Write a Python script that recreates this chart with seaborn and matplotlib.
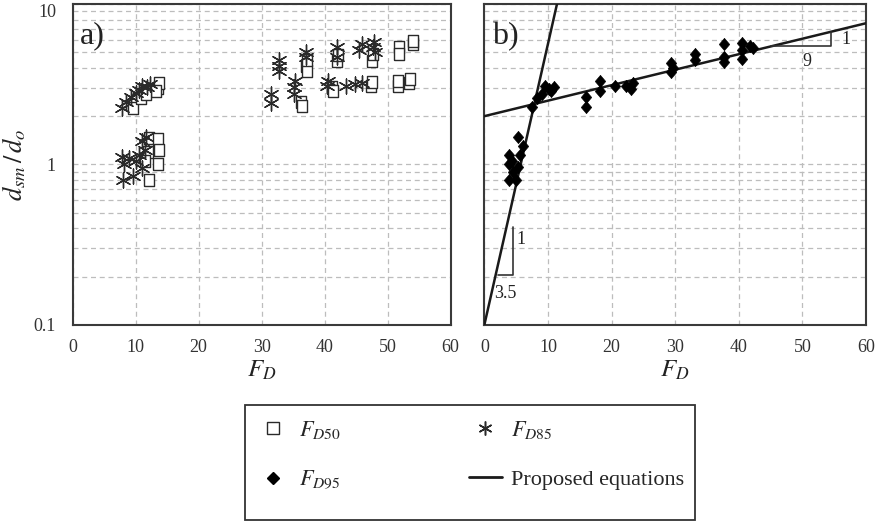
import numpy as np
import pandas as pd
import matplotlib
matplotlib.use("Agg")
import matplotlib.pyplot as plt
import seaborn as sns
from matplotlib.lines import Line2D
from matplotlib.patches import Rectangle
from matplotlib.ticker import FixedLocator, LogLocator, NullFormatter

# ---- data -------------------------------------------------------------
# FD50 (open squares, panel a)
fd50_x = [12.1, 13.6, 13.7, 13.6, 12.1, 12.0, 11.5,
          9.5, 10.8, 12.5, 13.6, 13.7, 13.2, 11.6,
          36.3, 36.4, 37.1, 37.2, 37.2, 41.2, 41.3, 42.0, 42.1,
          47.5, 47.6, 47.3, 47.5, 51.8, 51.8, 51.6, 51.7, 53.4, 53.5, 54.1, 54.1]
fd50_y = [1.46, 1.45, 1.23, 1.00, 0.80, 1.20, 1.05,
          2.25, 2.60, 2.90, 3.00, 3.20, 2.85, 2.75,
          2.45, 2.30, 4.10, 3.80, 4.50, 3.05, 2.85, 4.40, 4.80,
          4.40, 4.90, 3.10, 3.25, 5.40, 4.90, 3.10, 3.30, 3.20, 3.40, 5.60, 5.90]

# FD85 (asterisks, panel a)
fd85_x = [11.6, 11.0, 7.9, 8.2, 8.0, 9.5, 10.5, 11.5, 10.0, 11.0, 9.0,
          7.8, 8.5, 9.3, 10.5, 11.0, 11.8, 12.3, 10.0,
          31.5, 31.5, 32.7, 32.7, 32.7, 35.1, 35.2, 35.3, 37.0, 37.0,
          40.3, 40.5, 42.0, 42.0, 43.4, 44.8, 45.5, 45.9, 46.0, 47.7, 47.9, 48.0]
fd85_y = [1.49, 1.40, 1.12, 1.00, 0.80, 0.85, 1.15, 1.23, 1.05, 0.95, 1.10,
          2.25, 2.45, 2.65, 2.90, 3.10, 3.05, 3.15, 2.80,
          2.40, 2.75, 4.10, 4.50, 3.80, 3.05, 2.75, 3.30, 4.70, 5.00,
          3.10, 3.30, 5.40, 4.70, 3.10, 3.15, 5.20, 5.60, 3.20, 5.40, 5.80, 5.00]

# FD95 (filled diamonds, panel b)
fd95_x = [5.3, 6.0, 3.9, 5.6, 3.9, 5.3, 3.9, 4.9, 4.5, 4.4,
          7.5, 8.3, 9.1, 10.2, 11.0, 9.6, 10.5,
          16.0, 16.0, 18.2, 18.2, 20.5, 22.3, 23.1, 23.3,
          29.4, 29.4, 29.7, 33.1, 33.1, 37.6, 37.6, 37.6,
          40.5, 40.5, 40.5, 42.3, 41.8]
fd95_y = [1.48, 1.30, 1.14, 1.14, 1.00, 0.97, 0.80, 0.80, 0.90, 1.05,
          2.27, 2.60, 2.75, 2.95, 3.05, 3.10, 2.85,
          2.65, 2.27, 3.30, 2.85, 3.07, 3.10, 2.95, 3.20,
          4.30, 3.75, 4.00, 4.90, 4.45, 5.60, 4.65, 4.35,
          5.70, 5.20, 4.55, 5.30, 5.50]

# Proposed equations: d/do = a * exp(FD / b)
steep_a, steep_b = 0.1, 2.48
flat_a, flat_b = 2.0, 45.0

x_ticks = [0, 10, 20, 30, 40, 50, 60]
y_ticks = [0.1, 1, 10]
y_tick_labels = ["0.1", "1", "10"]

# ---- style ------------------------------------------------------------
sns.set_style("white")
plt.rcParams["font.family"] = ["Liberation Serif", "DejaVu Serif"]
plt.rcParams["mathtext.fontset"] = "stix"

edge = "#3a3a3a"
grid_c = "#bdbdbd"
ink = "#222222"

# slightly tall box and diamond outlines
box = [(-0.8, -1), (0.8, -1), (0.8, 1), (-0.8, 1), (-0.8, -1)]
diamond = [(0, 1), (0.85, 0), (0, -1), (-0.85, 0), (0, 1)]
star = (6, 2, 0)

fig = plt.figure(figsize=(8.79, 5.22), dpi=100)
ax_a = fig.add_axes([0.0827, 0.3774, 0.4300, 0.6150])
ax_b = fig.add_axes([0.5510, 0.3774, 0.4343, 0.6150])

df50 = pd.DataFrame({"FD": fd50_x, "d": fd50_y})
df85 = pd.DataFrame({"FD": fd85_x, "d": fd85_y})
df95 = pd.DataFrame({"FD": fd95_x, "d": fd95_y})

sns.scatterplot(data=df50, x="FD", y="d", ax=ax_a, marker=box, s=75,
                facecolor="white", edgecolor="#2a2a2a", linewidth=1.0, zorder=3)
sns.scatterplot(data=df85, x="FD", y="d", ax=ax_a, marker=star, s=115,
                color="#2a2a2a", linewidth=1.0, zorder=4)

sns.scatterplot(data=df95, x="FD", y="d", ax=ax_b, marker=diamond, s=80,
                color="black", edgecolor="black", linewidth=0.4, zorder=4)

xs = np.linspace(0, 60, 400)
steep = pd.DataFrame({"FD": xs, "d": steep_a * np.exp(xs / steep_b)})
flat = pd.DataFrame({"FD": xs, "d": flat_a * np.exp(xs / flat_b)})
sns.lineplot(data=steep, x="FD", y="d", ax=ax_b, color="#1a1a1a", lw=1.8, zorder=3)
sns.lineplot(data=flat, x="FD", y="d", ax=ax_b, color="#1a1a1a", lw=1.8, zorder=3)

# slope triangles
ax_b.plot([2.2, 4.5, 4.5], [0.205, 0.205, 0.41], color="#333333", lw=1.2, zorder=3)
ax_b.text(5.0, 0.34, "1", fontsize=13, ha="left", va="center", color=ink)
ax_b.text(3.3, 0.178, "3.5", fontsize=13, ha="center", va="top", color=ink)
ax_b.plot([45.1, 54.5, 54.5], [5.47, 5.47, 6.71], color="#333333", lw=1.2, zorder=3)
ax_b.text(56.1, 6.0, "1", fontsize=13, ha="left", va="center", color=ink)
ax_b.text(50.7, 4.95, "9", fontsize=13, ha="center", va="top", color=ink)

for ax, tag in [(ax_a, "a)"), (ax_b, "b)")]:
    ax.set_yscale("log")
    ax.set_xlim(0, 60)
    ax.set_ylim(0.1, 10)
    ax.xaxis.set_major_locator(FixedLocator(x_ticks))
    ax.set_yticks(y_ticks, y_tick_labels)
    ax.yaxis.set_minor_locator(LogLocator(base=10, subs=np.arange(2, 10)))
    ax.yaxis.set_minor_formatter(NullFormatter())
    ax.grid(True, which="major", axis="both", color=grid_c, ls=(0, (4, 3)), lw=0.9)
    ax.grid(True, which="minor", axis="y", color=grid_c, ls=(0, (4, 3)), lw=0.9)
    ax.set_axisbelow(True)
    ax.tick_params(which="both", length=0, labelsize=13, colors="#333333")
    ax.tick_params(axis="x", pad=10)
    ax.tick_params(axis="y", pad=12)
    for sp in ax.spines.values():
        sp.set_color(edge)
        sp.set_linewidth(1.5)
    ax.set_xlabel("$F_D$", fontsize=18, color=ink, labelpad=2)
    ax.set_ylabel("")
    ax.text(0.02, 0.945, tag, transform=ax.transAxes, fontsize=23,
            ha="left", va="top", color=ink)

ax_b.set_yticklabels([])
ax_a.get_yticklabels()[-1].set_verticalalignment("top")
ax_a.set_ylabel("$d_{sm}\\,/\\,d_o$", fontsize=19, color=ink, labelpad=4)

handles = [
    Line2D([], [], ls="none", marker="s", markersize=8, markerfacecolor="white",
           markeredgecolor="#2a2a2a", markeredgewidth=1.0),
    Line2D([], [], ls="none", marker="D", markersize=6.5, color="black"),
    Line2D([], [], ls="none", marker=star, markersize=10, color="#2a2a2a",
           markeredgewidth=1.1),
    Line2D([], [], color="#1a1a1a", lw=2.0),
]
labels = ["$F_{D50}$", "$F_{D95}$", "$F_{D85}$", "Proposed equations"]
leg = fig.legend(handles, labels, ncol=2, loc="center",
                 bbox_to_anchor=(0.279, 0.018, 0.512, 0.22), mode="expand",
                 fontsize=16, frameon=False,
                 handlelength=1.5, handletextpad=0.4, labelspacing=1.25,
                 borderpad=0.0, columnspacing=1.0)
fig.patches.append(Rectangle((0.279, 0.004), 0.512, 0.22, transform=fig.transFigure,
                             fill=False, edgecolor="#333333", lw=1.3))

fig.savefig("out.png", dpi=100)
